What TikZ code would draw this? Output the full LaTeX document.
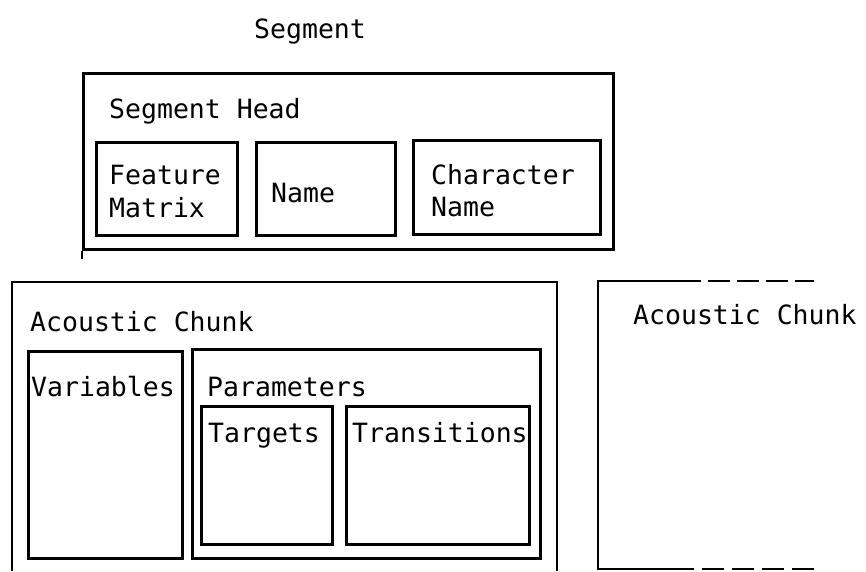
\documentclass[tikz,border=0pt]{standalone}
\usepackage{fontspec}
\newfontfamily\twfont{DejaVu Sans Mono}
\begin{document}
\begin{tikzpicture}[x=1pt,y=-1pt,
  box/.style={draw, line width=2.6pt, inner sep=0pt},
  lbl/.style={inner sep=0pt, anchor=base west, font=\twfont\fontsize{26.5}{33}\selectfont},
  edge/.style={line width=2.6pt}]
\useasboundingbox (0,0) rectangle (866,571);
% Segment
\node[lbl] (tseg) at (254,38) {Segment};
\node[box, anchor=north west, minimum width=530pt, minimum height=176pt] (seg) at (82,72) {};
\coordinate (segtail) at (82,259);
\draw[edge] (seg.south west) -- (segtail);
\node[lbl] (thead) at (109,118) {Segment Head};
\node[box, anchor=north west, minimum width=141pt, minimum height=93pt] (fm) at (95,141) {};
\node[box, anchor=north west, minimum width=139pt, minimum height=93pt] (nm) at (255,141) {};
\node[box, anchor=north west, minimum width=187pt, minimum height=94pt] (cn) at (412,139) {};
\node[lbl] (tfm1) at (109,184) {Feature};
\node[lbl] (tfm2) at (109,217) {Matrix};
\node[lbl] (tnm) at (271,202) {Name};
\node[lbl] (tcn1) at (431,184) {Character};
\node[lbl] (tcn2) at (431,216) {Name};
% Left acoustic chunk (open at bottom)
\coordinate (ac1) at (12,571);
\coordinate (ac2) at (12,282);
\coordinate (ac3) at (557,282);
\coordinate (ac4) at (557,571);
\draw[edge] (ac1) -- (ac2) -- (ac3) -- (ac4);
\node[lbl] (tac) at (30,331) {Acoustic Chunk};
\node[box, anchor=north west, minimum width=154pt, minimum height=207pt] (var) at (27,350) {};
\node[box, anchor=north west, minimum width=348pt, minimum height=209pt] (par) at (191,348) {};
\node[box, anchor=north west, minimum width=131pt, minimum height=138pt] (tar) at (200,405) {};
\node[box, anchor=north west, minimum width=183pt, minimum height=138pt] (tra) at (345,405) {};
\node[lbl] (tvar) at (31,396) {Variables};
\node[lbl] (tpar) at (207,396) {Parameters};
\node[lbl] (ttar) at (208,442) {Targets};
\node[lbl] (ttra) at (352,442) {Transitions};
% Right acoustic chunk (continued)
\coordinate (rc1) at (598,281);
\coordinate (rc2) at (700,281);
\coordinate (rc3) at (814,281);
\coordinate (rc4) at (598,569);
\coordinate (rc5) at (692,569);
\coordinate (rc6) at (814,569);
\draw[edge] (rc2) -- (rc1) -- (rc4) -- (rc5);
\draw[edge, dash pattern=on 22pt off 7pt, dash phase=-8pt] (rc2) -- (rc3);
\draw[edge, dash pattern=on 22pt off 8pt, dash phase=-10pt] (rc5) -- (rc6);
\node[lbl] (trc) at (633,324) {Acoustic Chunk};
\end{tikzpicture}
\end{document}
